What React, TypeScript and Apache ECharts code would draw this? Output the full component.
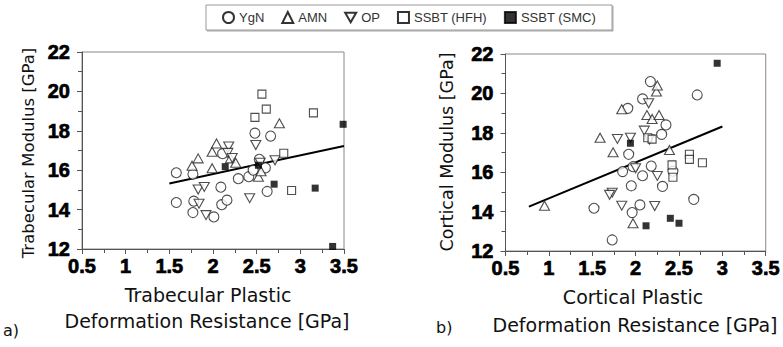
import React, { useEffect, useRef } from "react";
import * as echarts from "echarts";

// ---------- Data ----------
// a) Trabecular
const tYgN: number[][] = [
  [1.58, 15.87], [1.58, 14.36], [1.77, 15.8], [1.78, 14.43], [1.77, 13.85], [2.01, 13.63],
  [2.09, 15.14], [2.1, 14.25], [2.16, 14.48], [2.11, 16.84], [2.29, 15.57], [2.41, 15.67],
  [2.48, 17.88], [2.46, 16.0], [2.53, 16.55], [2.6, 16.12], [2.66, 17.73], [2.62, 14.92],
];
const tAMN: number[][] = [
  [1.76, 16.23], [1.83, 16.6], [1.99, 16.1], [1.99, 16.94], [2.04, 17.36], [2.2, 16.6],
  [2.26, 16.38], [2.52, 15.67], [2.55, 15.95], [2.76, 18.38],
];
const tOP: number[][] = [
  [1.83, 15.02], [1.9, 15.15], [1.84, 14.3], [1.92, 13.72], [2.18, 17.2], [2.17, 16.88],
  [2.22, 16.62], [2.42, 14.58], [2.49, 17.28], [2.54, 16.38], [2.71, 16.5],
];
const tHFH: number[][] = [
  [2.56, 19.86], [2.61, 19.1], [2.48, 18.68], [3.15, 18.91], [2.81, 16.86], [2.9, 14.97],
];
const tSMC: number[][] = [
  [2.14, 16.18], [2.52, 16.25], [2.7, 15.29], [3.17, 15.09], [3.49, 18.33], [3.37, 12.13],
];
const tFit: number[][] = [[1.5, 15.33], [3.5, 17.23]];

// b) Cortical
const cYgN: number[][] = [
  [1.52, 14.17], [1.73, 12.56], [1.85, 16.03], [1.91, 19.24], [1.92, 16.91], [1.95, 15.31],
  [1.96, 13.95], [2.05, 14.34], [2.08, 15.82], [2.08, 19.72], [2.17, 20.6], [2.18, 16.31],
  [2.3, 17.92], [2.35, 18.4], [2.31, 15.28], [2.43, 16.05], [2.67, 14.62], [2.71, 19.92],
  [1.97, 16.28],
];
const cAMN: number[][] = [
  [0.95, 14.3], [1.59, 17.75], [1.74, 17.01], [1.84, 19.2], [1.97, 13.41], [2.13, 18.9],
  [2.19, 18.7], [2.24, 20.1], [2.25, 20.4], [2.27, 18.9], [2.39, 17.13],
];
const cOP: number[][] = [
  [1.79, 17.69], [1.94, 17.75], [1.73, 14.96], [1.7, 14.85], [1.84, 14.3], [2.0, 16.2],
  [2.15, 19.5], [2.1, 18.11], [2.22, 14.28], [2.25, 15.81], [2.16, 17.66],
];
const cHFH: number[][] = [
  [2.14, 17.75], [2.19, 17.68], [2.42, 16.37], [2.43, 15.74], [2.62, 16.91], [2.62, 16.65],
  [2.77, 16.48],
];
const cSMC: number[][] = [
  [1.94, 17.47], [2.12, 13.28], [2.4, 13.66], [2.5, 13.41], [2.94, 21.53],
];
const cFit: number[][] = [[0.77, 14.25], [3.0, 18.32]];

const legendNames = ["YgN", "AMN", "OP", "SSBT (HFH)", "SSBT (SMC)"];
const xTicks = { min: 0.5, max: 3.5, interval: 0.5 };
const yTicks = { min: 12, max: 22, interval: 2 };

const INV_TRI = "path://M0,0L10,0L5,8.66Z";

function App() {
  const ref = useRef<HTMLDivElement>(null);
  useEffect(() => {
    if (!ref.current) return;
    const chart = echarts.init(ref.current, undefined, { renderer: "svg" });

    const hollow = { color: "#fff", borderColor: "#222", borderWidth: 1.1 };
    const makeSeries = (idx: number, ygn: number[][], amn: number[][], op: number[][], hfh: number[][], smc: number[][], fit: number[][]) => [
      { name: legendNames[0], type: "scatter", xAxisIndex: idx, yAxisIndex: idx, data: ygn, symbol: "circle", symbolSize: 10, itemStyle: hollow },
      { name: legendNames[1], type: "scatter", xAxisIndex: idx, yAxisIndex: idx, data: amn, symbol: "triangle", symbolSize: [10, 9], itemStyle: hollow },
      { name: legendNames[2], type: "scatter", xAxisIndex: idx, yAxisIndex: idx, data: op, symbol: INV_TRI, symbolSize: [10, 9], itemStyle: hollow },
      { name: legendNames[3], type: "scatter", xAxisIndex: idx, yAxisIndex: idx, data: hfh, symbol: "rect", symbolSize: 8, itemStyle: hollow },
      { name: legendNames[4], type: "scatter", xAxisIndex: idx, yAxisIndex: idx, data: smc, symbol: "rect", symbolSize: 7, itemStyle: { color: "#000", borderColor: "#000", borderWidth: 0 } },
      { name: "fit" + idx, type: "line", xAxisIndex: idx, yAxisIndex: idx, data: fit, showSymbol: false, symbol: "none", lineStyle: { color: "#000", width: 2 }, z: 1 },
    ];

    const tickLabel = {
      show: true, showMinLabel: true, showMaxLabel: true, color: "#000",
      fontFamily: "Liberation Sans", fontWeight: "bold", fontSize: 20,
      textBorderColor: "#000", textBorderWidth: 0.7,
    };
    const xAxisBase = (gi: number) => ({
      type: "value", gridIndex: gi, ...xTicks,
      axisLine: { show: true, onZero: false, lineStyle: { color: "#555", width: 1 } },
      axisTick: { show: true, inside: false, length: 5, lineStyle: { color: "#555" } },
      minorTick: { show: true, splitNumber: 2, length: 4, lineStyle: { color: "#555" } },
      splitLine: { show: false },
      axisLabel: { ...tickLabel, margin: 7 },
    });
    const yAxisBase = (gi: number) => ({
      type: "value", gridIndex: gi, ...yTicks,
      axisLine: { show: true, onZero: false, lineStyle: { color: "#555", width: 1 } },
      axisTick: { show: true, inside: false, length: 5, lineStyle: { color: "#555" } },
      minorTick: { show: true, splitNumber: 2, length: 4, lineStyle: { color: "#555" } },
      splitLine: { show: false },
      axisLabel: { ...tickLabel, margin: 12 },
    });

    const titleStyle = { fontFamily: "DejaVu Sans", fontSize: 19, fill: "#111", textAlign: "center", textVerticalAlign: "middle" };

    chart.setOption({
      animation: false,
      backgroundColor: "#fff",
      legend: {
        data: [
          { name: legendNames[0], icon: "circle" },
          { name: legendNames[1], icon: "triangle" },
          { name: legendNames[2], icon: INV_TRI },
          { name: legendNames[3], icon: "rect" },
          { name: legendNames[4], icon: "rect" },
        ],
        left: 206, top: 5,
        padding: [6, 16],
        itemGap: 17, itemWidth: 11, itemHeight: 11,
        borderColor: "#999", borderWidth: 1,
        shadowColor: "rgba(0,0,0,0.35)", shadowBlur: 1, shadowOffsetX: 1, shadowOffsetY: 1,
        backgroundColor: "#fff",
        itemStyle: { borderWidth: 2, borderColor: "#000" },
        textStyle: { fontFamily: "Liberation Sans", fontSize: 13, color: "#333" },
        selectedMode: false,
      },
      grid: [
        { left: 82, top: 52, width: 262, height: 197, show: true, borderColor: "#888", borderWidth: 1, backgroundColor: "transparent" },
        { left: 505.5, top: 54, width: 263, height: 197, show: true, borderColor: "#888", borderWidth: 1, backgroundColor: "transparent" },
      ],
      xAxis: [xAxisBase(0), xAxisBase(1)],
      yAxis: [yAxisBase(0), yAxisBase(1)],
      series: [
        ...makeSeries(0, tYgN, tAMN, tOP, tHFH, tSMC, tFit),
        ...makeSeries(1, cYgN, cAMN, cOP, cHFH, cSMC, cFit),
      ],
      graphic: [
        { type: "text", x: 28, y: 153, rotation: Math.PI / 2, style: { ...titleStyle, fontSize: 16.5, text: "Trabecular Modulus [GPa]" } },
        { type: "text", x: 447, y: 152, rotation: Math.PI / 2, style: { ...titleStyle, fontSize: 17.5, text: "Cortical Modulus [GPa]" } },
        { type: "text", x: 208, y: 295, style: { ...titleStyle, text: "Trabecular Plastic" } },
        { type: "text", x: 207, y: 321, style: { ...titleStyle, text: "Deformation Resistance [GPa]" } },
        { type: "text", x: 633, y: 297, style: { ...titleStyle, text: "Cortical Plastic" } },
        { type: "text", x: 635, y: 325, style: { ...titleStyle, text: "Deformation Resistance [GPa]" } },
        { type: "text", x: 3, y: 330, style: { fontFamily: "DejaVu Sans", fontSize: 16, fill: "#111", textAlign: "left", textVerticalAlign: "middle", text: "a)" } },
        { type: "text", x: 436, y: 327, style: { fontFamily: "DejaVu Sans", fontSize: 16, fill: "#111", textAlign: "left", textVerticalAlign: "middle", text: "b)" } },
      ],
    } as any);

    return () => chart.dispose();
  }, []);

  return <div ref={ref} style={{ width: 783, height: 347, position: "absolute", left: 0, top: 0 }} />;
}

export default App;
